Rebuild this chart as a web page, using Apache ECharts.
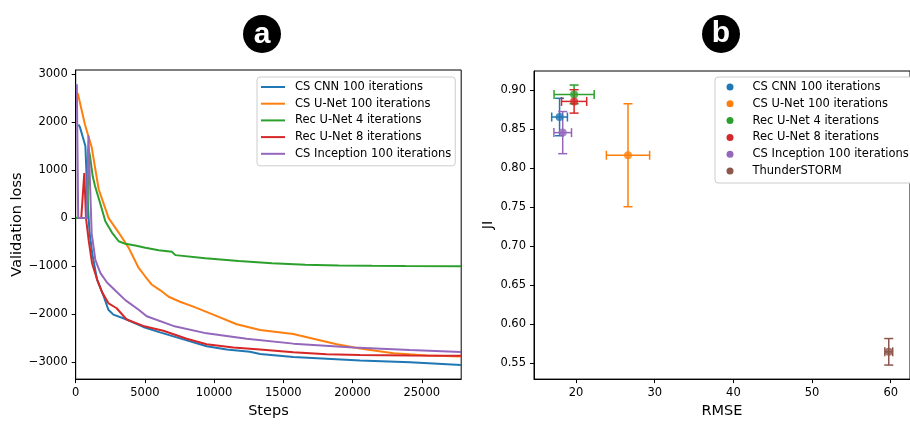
<!DOCTYPE html>
<html>
<head>
<meta charset="utf-8">
<script src="https://cdn.jsdelivr.net/npm/echarts@6/dist/echarts.min.js"></script>
<style>
html, body { margin: 0; padding: 0; background: #fff; }
#chart { width: 910px; height: 424px; }
</style>
</head>
<body>
<div id="chart"></div>
<script>
// panel a: validation loss curves, [step, loss]
const lossNames = ['CS CNN 100 iterations', 'CS U-Net 100 iterations', 'Rec U-Net 4 iterations', 'Rec U-Net 8 iterations', 'CS Inception 100 iterations'];
const cnnLoss = [[200, 1950], [300, 1900], [500, 1700], [700, 1500], [850, 400], [1000, -300], [1200, -750], [1540, -1275], [2000, -1610], [2360, -1911], [2720, -2012], [3680, -2113], [4880, -2268], [6090, -2382], [8020, -2549], [9460, -2670], [10910, -2736], [12590, -2784], [13320, -2831], [15720, -2897], [18130, -2931], [20540, -2965], [24150, -3005], [27840, -3060]];
const unetLoss = [[150, 2600], [672, 1944], [1155, 1475], [1660, 600], [2380, 0], [3105, -302], [3830, -620], [4550, -1040], [5000, -1207], [5510, -1390], [6090, -1500], [6720, -1640], [7535, -1744], [8500, -1845], [9940, -2012], [11630, -2213], [13320, -2334], [15720, -2414], [17170, -2515], [18860, -2630], [20540, -2716], [22950, -2817], [25360, -2865], [27840, -2885]];
const rec4Loss = [[0, 0], [850, 0], [920, 1450], [1030, 1300], [1228, 870], [1395, 670], [1880, 200], [2140, -68], [2620, -302], [3105, -483], [3585, -537], [4305, -571], [5030, -618], [6000, -672], [6960, -704], [7200, -772], [9370, -839], [11780, -893], [14180, -940], [16590, -974], [19000, -986], [21410, -994], [23810, -1000], [27840, -1006]];
const rec8Loss = [[400, 0], [620, 940], [745, 0], [940, -470], [1180, -940], [1540, -1275], [1900, -1543], [2380, -1778], [2960, -1879], [3680, -2113], [4880, -2247], [6330, -2348], [8020, -2515], [9460, -2630], [11390, -2696], [13320, -2736], [15720, -2797], [18130, -2837], [20540, -2851], [24150, -2865], [27840, -2871]];
const inceptionLoss = [[80, 2790], [180, 0], [790, 0], [920, 1720], [1155, -336], [1228, -470], [1418, -873], [1780, -1141], [2260, -1342], [2860, -1509], [3585, -1710], [4550, -1911], [5130, -2046], [7050, -2247], [9460, -2402], [12350, -2515], [15720, -2616], [20060, -2696], [24150, -2750], [27840, -2791]];
const lossData = [cnnLoss, unetLoss, rec4Loss, rec8Loss, inceptionLoss];
const stepTicks = [0, 5000, 10000, 15000, 20000, 25000];
const lossTicks = [-3000, -2000, -1000, 0, 1000, 2000, 3000];

// panel b: JI vs RMSE with error bars
const methods = ['CS CNN 100 iterations', 'CS U-Net 100 iterations', 'Rec U-Net 4 iterations', 'Rec U-Net 8 iterations', 'CS Inception 100 iterations', 'ThunderSTORM'];
const rmse = [17.9, 26.6, 19.75, 19.75, 18.3, 59.75];
const rmseErr = [1.0, 2.75, 2.55, 1.6, 1.12, 0.5];
const ji = [0.866, 0.817, 0.895, 0.886, 0.846, 0.565];
const jiErr = [0.024, 0.066, 0.012, 0.015, 0.027, 0.017];
const rmseTicks = [20, 30, 40, 50, 60];
const jiTicks = [0.55, 0.60, 0.65, 0.70, 0.75, 0.80, 0.85, 0.90];

const colors = ['#1f77b4', '#ff7f0e', '#2ca02c', '#d62728', '#9467bd', '#8c564b'];
const font = 'DejaVu Sans';

let myChart = echarts.init(document.getElementById('chart'));

function axisBase(ticks) {
  return {
    axisLine: { show: true, onZero: false, lineStyle: { color: '#000', width: 1 } },
    axisTick: { show: true, length: 4, lineStyle: { color: '#000' }, customValues: ticks },
    splitLine: { show: false },
    nameLocation: 'middle',
    nameTextStyle: { fontFamily: font, fontSize: 14.5, color: '#000' }
  };
}

function errorBar(params, api) {
  const x = api.value(0), y = api.value(1), ex = api.value(2), ey = api.value(3);
  const c = api.coord([x, y]);
  const l = api.coord([x - ex, y]);
  const r = api.coord([x + ex, y]);
  const t = api.coord([x, y + ey]);
  const b = api.coord([x, y - ey]);
  const cap = 4.5;
  const style = { stroke: api.visual('color'), lineWidth: 1.5 };
  const seg = (x1, y1, x2, y2) => ({ type: 'line', shape: { x1, y1, x2, y2 }, style });
  return {
    type: 'group',
    children: [
      seg(l[0], c[1], r[0], c[1]),
      seg(c[0], t[1], c[0], b[1]),
      seg(l[0], c[1] - cap, l[0], c[1] + cap),
      seg(r[0], c[1] - cap, r[0], c[1] + cap),
      seg(c[0] - cap, t[1], c[0] + cap, t[1]),
      seg(c[0] - cap, b[1], c[0] + cap, b[1])
    ]
  };
}

const series = [];
lossData.forEach((d, i) => {
  series.push({
    name: lossNames[i], type: 'line', xAxisIndex: 0, yAxisIndex: 0,
    data: d, showSymbol: false, symbol: 'none',
    itemStyle: { color: colors[i] },
    lineStyle: { color: colors[i], width: 2 }
  });
});
methods.forEach((m, i) => {
  series.push({
    name: m, type: 'custom', xAxisIndex: 1, yAxisIndex: 1,
    data: [[rmse[i], ji[i], rmseErr[i], jiErr[i]]],
    encode: { x: 0, y: 1 },
    itemStyle: { color: colors[i] },
    renderItem: errorBar
  });
  series.push({
    name: m, type: 'scatter', xAxisIndex: 1, yAxisIndex: 1,
    data: [[rmse[i], ji[i]]], symbolSize: 8, z: 3,
    itemStyle: { color: colors[i] }
  });
});

const legendBase = {
  orient: 'vertical', selectedMode: false,
  itemGap: 2.7,
  borderColor: '#cccccc', borderWidth: 1, borderRadius: 3, backgroundColor: '#fff',
  itemStyle: { borderWidth: 0 }
};

myChart.setOption({
  animation: false,
  backgroundColor: '#fff',
  textStyle: { fontFamily: font },
  grid: [
    { left: 75.7, top: 70, width: 385.5, bottom: 34, show: true, borderColor: '#000', borderWidth: 1, containLabel: false },
    { left: 534, top: 71, right: -7.6, bottom: 34, show: true, borderColor: '#000', borderWidth: 1, containLabel: false }
  ],
  legend: [
    Object.assign({}, legendBase, {
      left: 257, top: 77, padding: [3, 4, 5, 4],
      data: lossNames.map(n => ({ name: n, icon: 'rect' })),
      itemWidth: 24, itemHeight: 2,
      textStyle: { fontFamily: font, fontSize: 11.5, color: '#000', lineHeight: 14, padding: [0, 0, 0, 5] }
    }),
    Object.assign({}, legendBase, {
      left: 715, top: 77, padding: [3, 20, 5, 11.5],
      data: methods.map(n => ({ name: n, icon: 'circle' })),
      itemWidth: 7, itemHeight: 7, itemGap: 2.8,
      textStyle: { fontFamily: font, fontSize: 11.5, color: '#000', lineHeight: 14, padding: [0, 0, 0, 14] }
    })
  ],
  xAxis: [
    Object.assign(axisBase(stepTicks), {
      type: 'value', gridIndex: 0, min: 0, max: 27850,
      name: 'Steps', nameGap: 22,
      axisLabel: { customValues: stepTicks, margin: 8, fontFamily: font, fontSize: 11.5, color: '#000',
        formatter: v => String(v) }
    }),
    Object.assign(axisBase(rmseTicks), {
      type: 'value', gridIndex: 1, min: 14.65, max: 62.45,
      name: 'RMSE', nameGap: 22,
      axisLabel: { customValues: rmseTicks, margin: 8, fontFamily: font, fontSize: 11.5, color: '#000',
        formatter: v => String(v) }
    })
  ],
  yAxis: [
    Object.assign(axisBase(lossTicks), {
      type: 'value', gridIndex: 0, min: -3355, max: 3085,
      name: 'Validation loss', nameGap: 50,
      axisLabel: { customValues: lossTicks, margin: 8, fontFamily: font, fontSize: 11.5, color: '#000',
        formatter: v => String(v).replace('-', '\u2212') }
    }),
    Object.assign(axisBase(jiTicks), {
      type: 'value', gridIndex: 1, min: 0.530, max: 0.925,
      name: 'JI', nameGap: 38,
      axisLabel: { customValues: jiTicks, margin: 8, fontFamily: font, fontSize: 11.5, color: '#000',
        formatter: v => v.toFixed(2) }
    })
  ],
  graphic: [
    { type: 'circle', shape: { cx: 262, cy: 34, r: 19 }, style: { fill: '#000' } },
    { type: 'text', x: 262, y: 35, style: { text: 'a', fill: '#fff', font: 'bold 30px "Liberation Sans"', align: 'center', verticalAlign: 'middle' } },
    { type: 'circle', shape: { cx: 721, cy: 34, r: 19 }, style: { fill: '#000' } },
    { type: 'text', x: 721, y: 34, style: { text: 'b', fill: '#fff', font: 'bold 30px "Liberation Sans"', align: 'center', verticalAlign: 'middle' } }
  ],
  series: series
});
</script>
</body>
</html>
